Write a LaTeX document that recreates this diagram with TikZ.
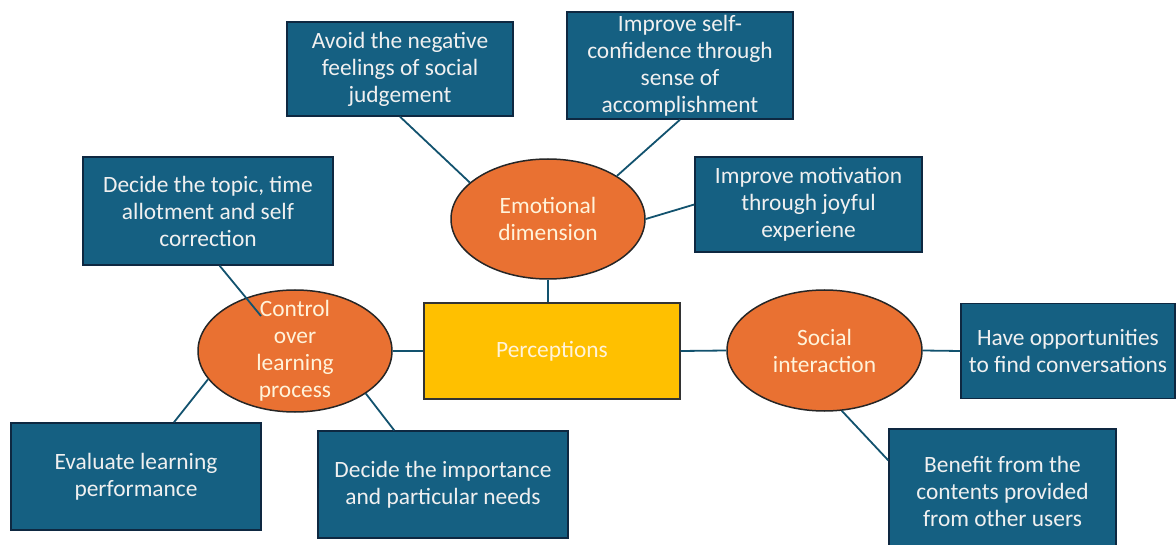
\documentclass[tikz,border=0pt]{standalone}
\usepackage{fontspec}
\setmainfont{Carlito}
\usepackage{xcolor}
\usetikzlibrary{shapes.geometric}

\definecolor{boxblue}{HTML}{156082}
\definecolor{boxedge}{HTML}{0E2841}
\definecolor{ovalorange}{HTML}{E97132}
\definecolor{coreyellow}{HTML}{FFC000}
\definecolor{paletext}{HTML}{FFF3DA}

\begin{document}
\begin{tikzpicture}[x=1pt, y=-1pt,
  idea/.style={rectangle, draw=boxedge, line width=1.4pt, fill=boxblue,
    text=white!94!black, align=center, inner sep=0pt,
    font=\fontsize{23.4}{27}\selectfont},
  oval/.style={ellipse, draw=black!85, line width=1.5pt, fill=ovalorange,
    text=paletext, align=center, inner sep=0pt,
    font=\fontsize{23.4}{27}\selectfont},
  ovaltext/.style={text=paletext, align=center,
    font=\fontsize{23.4}{27}\selectfont},
  link/.style={draw=boxblue!85!black, line width=1.8pt}]

  \useasboundingbox (0,0) rectangle (1176,545);

  % Centre of the map
  \node[rectangle, draw=black!80, line width=1.4pt, fill=coreyellow,
        text=paletext, minimum width=256, minimum height=96,
        font=\fontsize{23.4}{27}\selectfont] (percep) at (552,351) {Perceptions};

  % The three dimensions
  \node[oval, minimum width=194, minimum height=120] (emo) at (548,219)
        {Emotional\\dimension};
  \node[oval, minimum width=194, minimum height=122,
        label={[ovaltext]center:Control\\over\\learning\\process}] (ctrl) at (295,351) {};
  \node[oval, minimum width=195, minimum height=121] (social) at (824.5,350.5)
        {Social\\interaction};

  % Emotional dimension
  \node[idea, minimum width=226, minimum height=94] (avoid) at (400,69)
        {Avoid the negative\\feelings of social\\judgement};
  \node[idea, minimum width=226, minimum height=107] (conf) at (680,65.5)
        {Improve self-\\confidence through\\sense of\\accomplishment};
  \node[idea, minimum width=227, minimum height=95] (motiv) at (808.5,204.5)
        {Improve motivation\\through joyful\\experiene};

  % Control over learning process
  \node[idea, minimum width=250, minimum height=108] (topic) at (208,211)
        {Decide the topic, time\\allotment and self\\correction};
  \node[idea, minimum width=250, minimum height=107] (eval) at (136,476.5)
        {Evaluate learning\\performance};
  \node[idea, minimum width=250, minimum height=107] (imp) at (443,484.5)
        {Decide the importance\\and particular needs};

  % Social interaction
  \node[idea, minimum width=214, minimum height=95] (have) at (1068,351)
        {Have opportunities\\to find conversations};
  \node[idea, minimum width=227, minimum height=124] (benefit) at (1002.5,491)
        {Benefit from the\\contents provided\\from other users};

  % Connectors
  \coordinate (ctrl-in) at (261,316);
  \draw[link] (avoid.south) -- (emo.155);
  \draw[link] (conf.south) -- (emo.32);
  \draw[link] (motiv.west) -- (emo.east);
  \draw[link] (emo.south) -- (emo.south |- percep.north);
  \draw[link] (percep.west) -- (ctrl.east);
  \draw[link] (percep.east) -- (social.west);
  \draw[link] (topic.-78) -- (ctrl-in);
  \draw[link] (eval.55) -- (ctrl.198);
  \draw[link] (imp.132) -- (ctrl.-31);
  \draw[link] (social.east) -- (have.west);
  \draw[link] (social.-74) -- (benefit.165);

\end{tikzpicture}
\end{document}
